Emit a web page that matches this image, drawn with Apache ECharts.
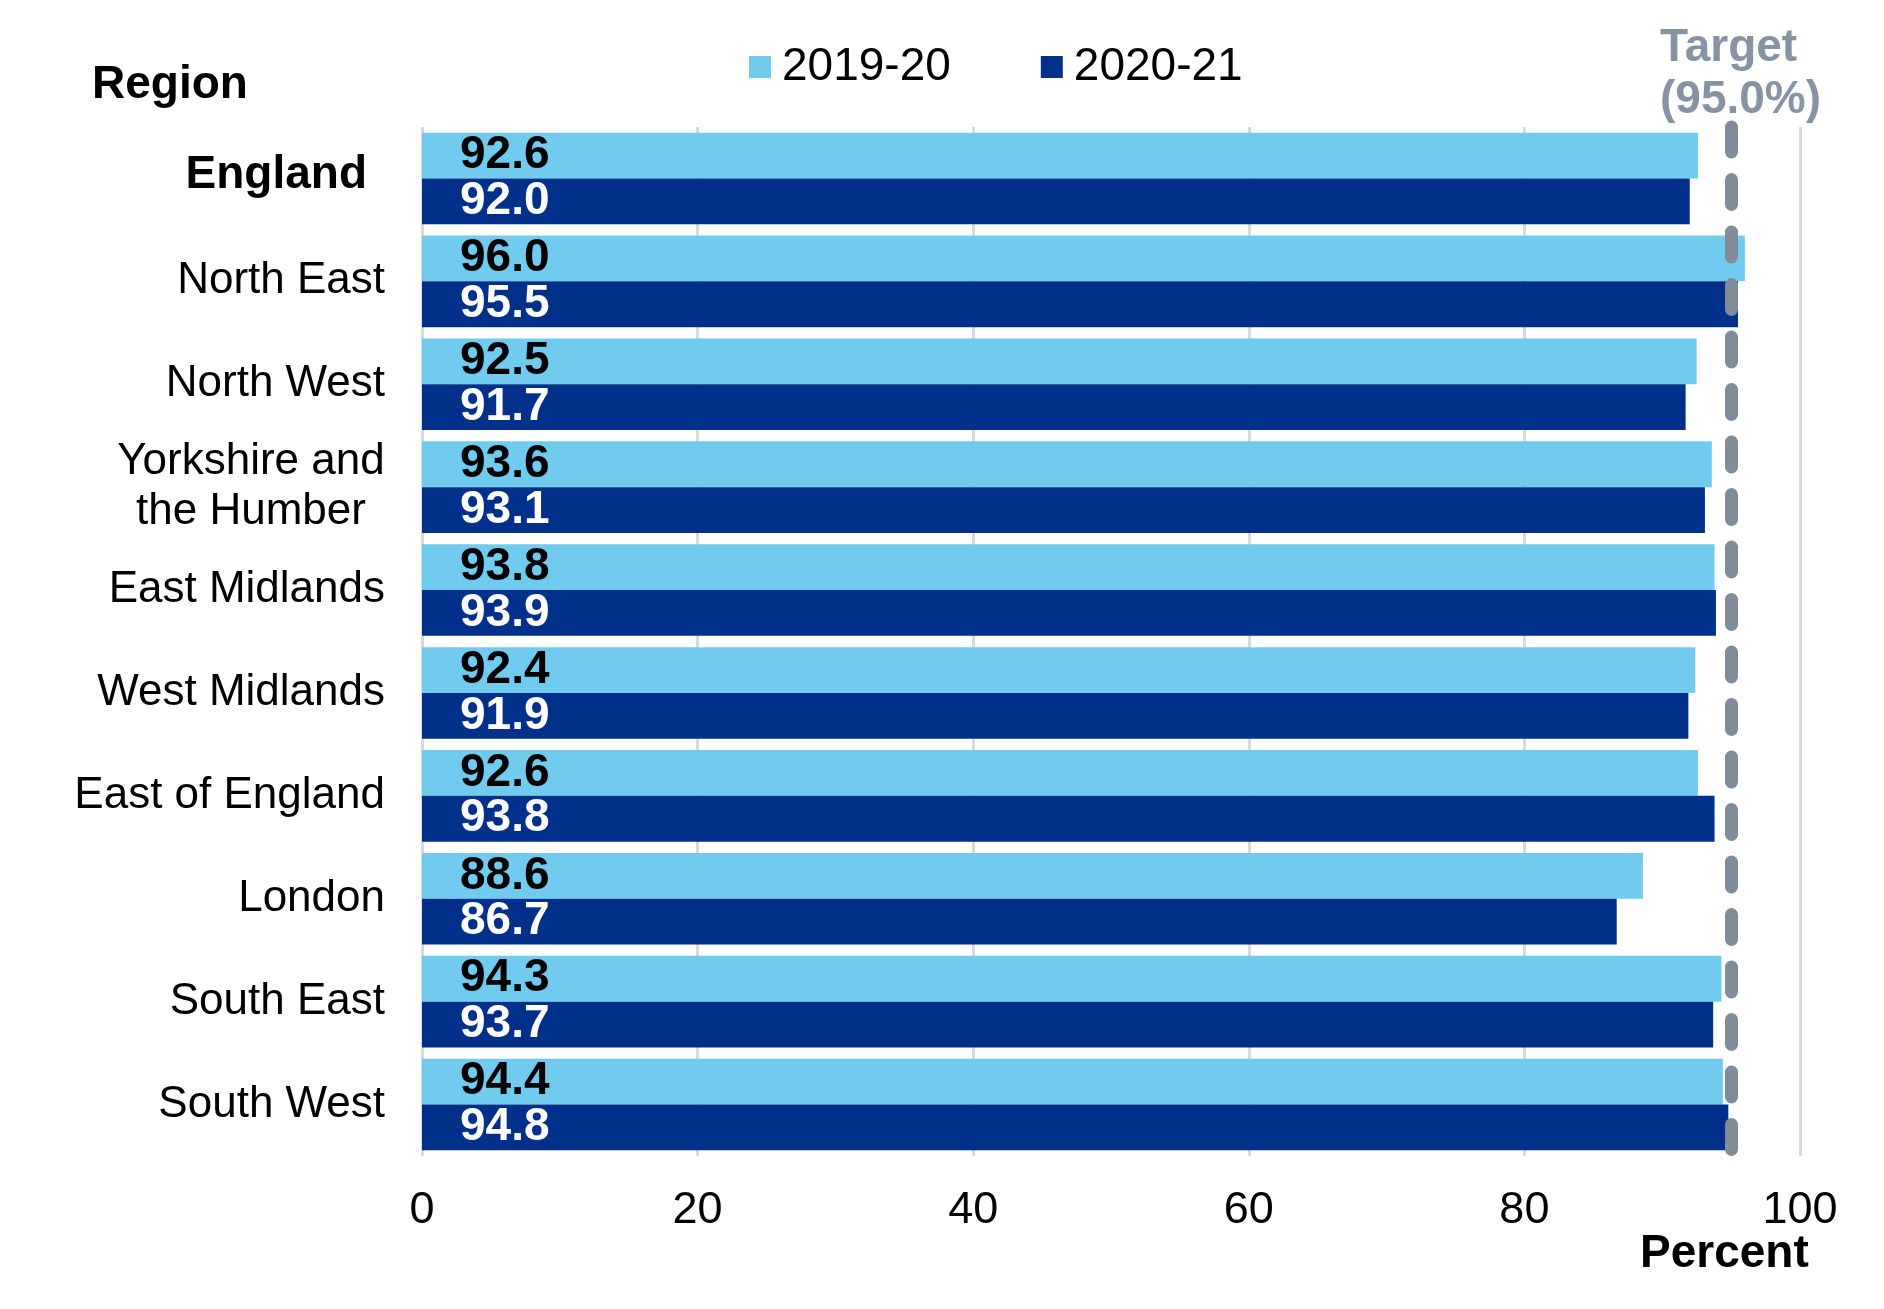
<!DOCTYPE html>
<html>
<head>
<meta charset="utf-8">
<script src="https://cdn.jsdelivr.net/npm/echarts@6/dist/echarts.min.js"></script>
<style>
  html, body { margin: 0; padding: 0; background: #fff; }
  #chart { width: 1884px; height: 1309px; }
</style>
</head>
<body>
<div id="chart"></div>
<script>
const regions = ["England", "North East", "North West", "Yorkshire and the Humber", "East Midlands",
  "West Midlands", "East of England", "London", "South East", "South West"];
const values1920 = [92.6, 96.0, 92.5, 93.6, 93.8, 92.4, 92.6, 88.6, 94.3, 94.4];
const values2021 = [92.0, 95.5, 91.7, 93.1, 93.9, 91.9, 93.8, 86.7, 93.7, 94.8];
const xTicks = [0, 20, 40, 60, 80, 100];
const target = 95.0;

const font = "'Liberation Sans', Arial, sans-serif";
const chart = echarts.init(document.getElementById("chart"));

chart.setOption({
  backgroundColor: "#fff",
  animation: false,
  textStyle: { fontFamily: font },
  legend: {
    data: ["2019-20", "2020-21"],
    left: 744,
    top: 39,
    itemWidth: 22,
    itemHeight: 22,
    itemGap: 90,
    icon: "rect",
    textStyle: { fontSize: 46, color: "#000", padding: [0, 0, 0, 6] },
  },
  grid: { left: 422, right: 84, top: 127, bottom: 153 },
  xAxis: {
    type: "value",
    min: xTicks[0],
    max: xTicks[xTicks.length - 1],
    interval: 20,
    axisLine: { show: false },
    axisTick: { show: false },
    splitLine: { show: true, lineStyle: { color: "#D6D9DD", width: 3 } },
    axisLabel: { fontSize: 45, color: "#000", margin: 32 },
  },
  yAxis: {
    type: "category",
    data: regions,
    inverse: true,
    axisLine: { show: false },
    axisTick: { show: false },
    axisLabel: {
      fontSize: 44,
      color: "#000",
      margin: 37,
      formatter(v) {
        if (v === "England") return "{b|England}";
        if (v === "Yorkshire and the Humber") return "{c|Yorkshire and}\n{c|the Humber}";
        return v;
      },
      rich: {
        b: { fontSize: 46, fontWeight: "bold", color: "#000", fontFamily: font, padding: [0, 18, 6, 0] },
        c: { fontSize: 44, color: "#000", width: 268, align: "center", lineHeight: 50, fontFamily: font },
      },
    },
  },
  series: [
    {
      name: "2019-20",
      type: "bar",
      data: values1920,
      barGap: "0%",
      barCategoryGap: "11%",
      itemStyle: { color: "#70CBEE" },
      label: {
        show: true,
        position: "insideLeft",
        distance: 38,
        formatter: (p) => p.value.toFixed(1),
        fontSize: 46,
        fontWeight: "bold",
        color: "#000",
      },
    },
    {
      name: "2020-21",
      type: "bar",
      data: values2021,
      itemStyle: { color: "#00308A" },
      label: {
        show: true,
        position: "insideLeft",
        distance: 38,
        formatter: (p) => p.value.toFixed(1),
        fontSize: 46,
        fontWeight: "bold",
        color: "#fff",
      },
      markLine: {
        silent: true,
        symbol: "none",
        label: { show: false },
        lineStyle: { color: "#808C99", width: 13, type: [25, 27.5], cap: "round" },
        data: [{ xAxis: target }],
      },
    },
  ],
  graphic: [
    {
      type: "text",
      left: 92,
      top: 62,
      style: { text: "Region", font: "bold 46px " + font, fill: "#000" },
    },
    {
      type: "text",
      left: 1640,
      top: 1231,
      style: { text: "Percent", font: "bold 46px " + font, fill: "#000" },
    },
    {
      type: "text",
      x: 1660,
      y: 22,
      style: {
        text: "Target\n(" + target.toFixed(1) + "%)",
        font: "bold 46px " + font,
        fill: "#8593A2",
        align: "left",
        lineHeight: 52,
      },
    },
  ],
});
</script>
</body>
</html>
